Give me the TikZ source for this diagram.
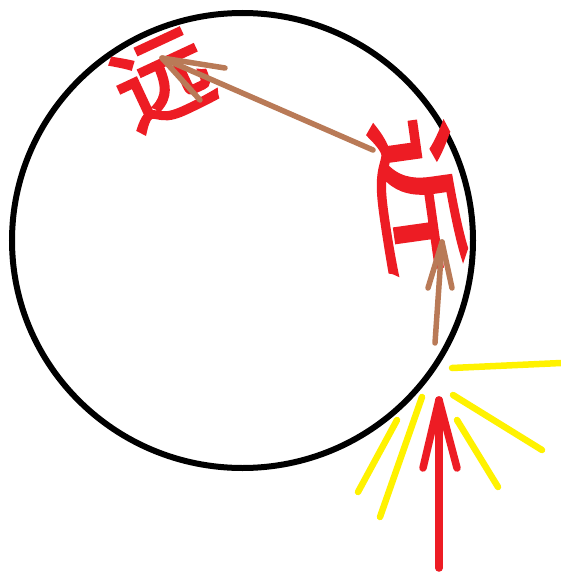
\documentclass[tikz,border=0pt]{standalone}
\usepackage{fontspec}
\newfontfamily\cjk{Noto Sans CJK SC}
\definecolor{pred}{RGB}{237,28,36}
\definecolor{pyel}{RGB}{255,242,0}
\definecolor{pbrown}{RGB}{185,122,87}
\newcommand{\thickglyph}[1]{\special{pdf:literal 2 Tr 3 w}#1\special{pdf:literal 0 Tr}}
\begin{document}
\begin{tikzpicture}[x=1pt,y=-1pt,
  ray/.style={pyel,line width=6.5pt,line cap=round},
  redline/.style={pred,line width=7.5pt,line cap=round,line join=round},
  brownline/.style={pbrown,line width=5.5pt,line cap=round,line join=round},
  glyph/.style={pred,inner sep=0pt,font=\cjk\fontsize{95}{95}\selectfont}]
\useasboundingbox (0,0) rectangle (561,575);
\fill[white] (0,0) rectangle (561,575);
% circle
\coordinate (c) at (242.5,240.5);
\draw[black,line width=6pt] (c) ellipse [x radius=230.5, y radius=227.5];
% characters
\node[glyph,rotate=25] (far) at (163,80) {\thickglyph{远}};
\node[glyph,rotate=-82] (near) at (418,195) {\scalebox{1.7}[0.95]{\thickglyph{近}}};
% brown arrows
\coordinate (b1tail) at (373,150);
\coordinate (b1tip) at (162,58);
\coordinate (b1w1) at (225,68);
\coordinate (b1w2) at (200,100);
\draw[brownline] (b1tail) -- (b1tip);
\draw[brownline] (b1w1) -- (b1tip) -- (b1w2);
\coordinate (b2tail) at (435,343);
\coordinate (b2tip) at (442,242);
\coordinate (b2w1) at (428,288);
\coordinate (b2w2) at (452,288);
\draw[brownline] (b2tail) -- (b2tip);
\draw[brownline] (b2w1) -- (b2tip) -- (b2w2);
% yellow rays
\coordinate (y1a) at (452,368); \coordinate (y1b) at (561,363);
\coordinate (y2a) at (453,395); \coordinate (y2b) at (542,450);
\coordinate (y3a) at (457,420); \coordinate (y3b) at (498,487);
\coordinate (y4a) at (422,397); \coordinate (y4b) at (380,517);
\coordinate (y5a) at (397,420); \coordinate (y5b) at (358,492);
\draw[ray] (y1a) -- (y1b);
\draw[ray] (y2a) -- (y2b);
\draw[ray] (y3a) -- (y3b);
\draw[ray] (y4a) -- (y4b);
\draw[ray] (y5a) -- (y5b);
% red arrow
\coordinate (rtail) at (439,568);
\coordinate (rtip) at (439,400);
\coordinate (rw1) at (423,468);
\coordinate (rw2) at (457,468);
\draw[redline] (rtail) -- (rtip);
\draw[redline] (rw1) -- (rtip) -- (rw2);
\end{tikzpicture}
\end{document}
